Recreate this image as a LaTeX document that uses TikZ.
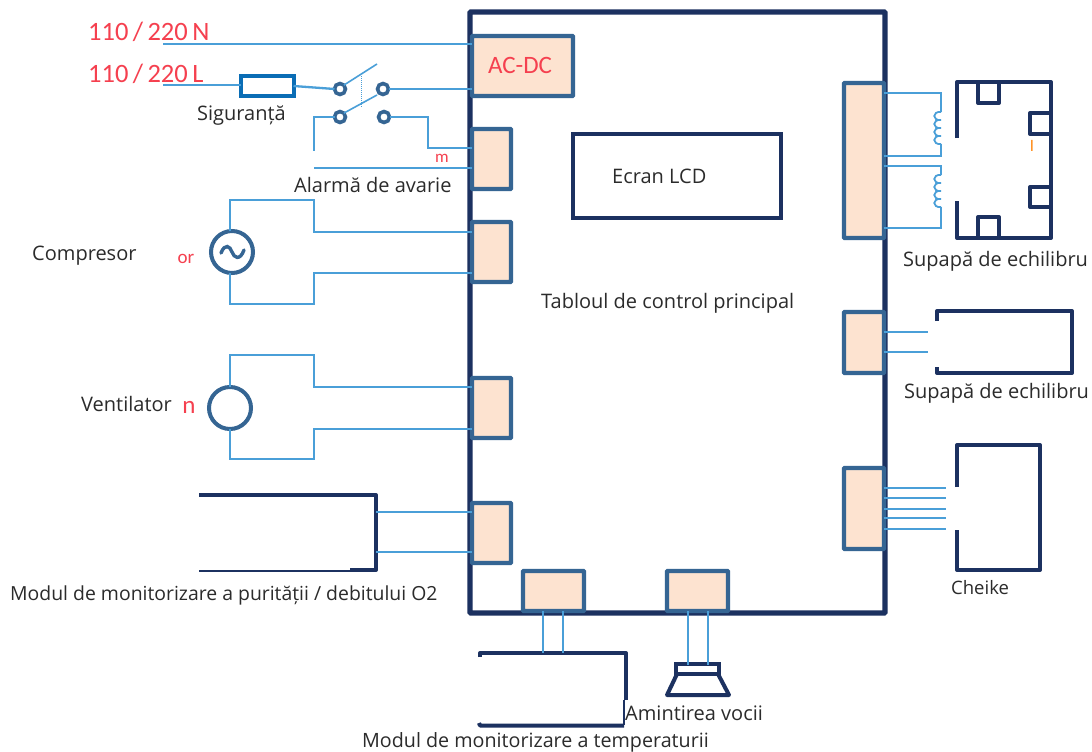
\documentclass[tikz,border=0pt]{standalone}
\usepackage{fontspec}
\setmainfont{Open Sans}
\newfontfamily\redfont{Carlito}
\definecolor{navy}{HTML}{1C3160}
\definecolor{portline}{HTML}{356593}
\definecolor{portfill}{HTML}{FDE3D0}
\definecolor{wirec}{HTML}{4A9FD8}
\definecolor{fusec}{HTML}{0A6DB5}
\definecolor{labelc}{HTML}{2B2B2B}
\definecolor{redc}{HTML}{F5404F}
\tikzset{
  x=1pt,y=-1pt,
  port/.style={draw=portline,fill=portfill,line width=4.4pt,inner sep=0pt,outer sep=0pt,rounded corners=0.8pt},
  wire/.style={draw=wirec,line width=2.3pt},
  thinwire/.style={draw=wirec,line width=1.6pt},
  heavy/.style={draw=navy,line width=4pt,line join=round},
  lbl/.style={text=labelc,inner sep=0pt,font=\fontsize{20}{22}\selectfont},
  redlbl/.style={text=redc,inner sep=0pt,font=\redfont\fontsize{26.5}{28}\selectfont},
  redbit/.style={text=redc,inner sep=0pt,font=\redfont\fontsize{17}{18}\selectfont},
  contact/.style={circle,draw=portline,fill=white,line width=3.6pt,minimum size=11pt,inner sep=0pt,outer sep=0pt},
  motor/.style={circle,draw=portline,fill=white,line width=4pt,minimum size=42pt,inner sep=0pt,outer sep=0pt},
}
\newcommand\boxat[6][]{\node[#1,minimum width={#5-#3},minimum height={#6-#4}] (#2) at ({(#3+#5)/2},{(#4+#6)/2}) {};}
\newcommand\coilat[2]{\draw[wire,line width=1.8pt] (#1,#2) .. controls (#1-9,#2-1) and (#1-9,#2+9) .. (#1,#2+8)
  .. controls (#1-9,#2+7) and (#1-9,#2+17) .. (#1,#2+16)
  .. controls (#1-9,#2+15) and (#1-9,#2+25) .. (#1,#2+24)
  .. controls (#1-9,#2+23) and (#1-9,#2+33) .. (#1,#2+32);}
\begin{document}
\begin{tikzpicture}
\useasboundingbox[fill=white] (0,0) rectangle (1092,752);

% free wire ends
\coordinate (nIn) at (163,44);
\coordinate (lIn) at (163,85);

% main board
\boxat[draw=navy,line width=5.4pt,rounded corners=1pt,inner sep=0pt,outer sep=0pt]{board}{470}{12}{885}{613}

\node[draw=fusec,line width=4pt,minimum width=53pt,minimum height=20pt,inner sep=0pt,outer sep=0pt,fill=white] (fuse) at (267,86) {};

\boxat[port]{acdc}{472}{36}{573}{96}
\boxat[port]{pAlarm}{472}{129}{511}{189}
\boxat[port]{pComp}{472}{222}{511}{282}
\boxat[port]{pFan}{472}{378}{511}{438}
\boxat[port]{pOxy}{472}{503}{511}{563}
\boxat[port]{pTemp}{523}{571}{584}{611}
\boxat[port]{pVoice}{667}{571}{728}{611}
\boxat[port]{pValveA}{844}{83}{884}{238}
\boxat[port]{pValveB}{844}{312}{884}{373}
\boxat[port]{pKey}{844}{468}{884}{549}

% LCD
\boxat[draw=navy,line width=4pt,inner sep=0pt,outer sep=0pt]{lcd}{573}{134}{781}{218}

% mains
\draw[wire] (nIn) -- (nIn -| acdc.west);
\draw[wire] (lIn) -- (lIn -| fuse.west);

% switch
\node[contact] (sA) at (340,89) {};
\node[contact] (sB) at (383,89) {};
\node[contact] (sC) at (340,117) {};
\node[contact] (sD) at (384,117) {};
\coordinate (bladeA) at (377,64);
\coordinate (bladeB) at (377,95);
\draw[wire] (fuse.east) -- (sA.west);
\draw[wire] (sB.east) -- (sB.east -| acdc.west);
\draw[thinwire] (sA.north east) -- (bladeA);
\draw[thinwire] (sC.north east) -- (bladeB);
\draw[wirec,line width=1pt,densely dotted] (361,76) -- (361,107);

% alarm
\coordinate (alA) at (314,151);
\coordinate (alB) at (314,168);
\draw[wire] (sC.west) -- (alA |- sC.west) -- (alA);
\draw[wire] (alB) -- (alB -| pAlarm.west);
\coordinate (alC) at (428,148);
\draw[wire] (sD.east) -- (alC |- sD.east) -- (alC) -- (alC -| pAlarm.west);

% compressor
\node[motor] (comp) at (232,252) {};
\coordinate (cA) at (314,232);
\coordinate (cB) at (314,273);
\draw[wire] (comp.north -| 230,0) -- (230,200) -- (314,200) -- (cA) -- (cA -| pComp.west);
\draw[wire] (comp.south -| 230,0) -- (230,304) -- (314,304) -- (cB) -- (cB -| pComp.west);
\draw[draw=portline,line width=3.4pt,line cap=round] (221,253) .. controls (225,243) and (230,246) .. (232,252) .. controls (234,258) and (240,261) .. (244,250);

% fan
\node[motor] (fan) at (230,408) {};
\coordinate (fA) at (314,387);
\coordinate (fB) at (314,429);
\draw[wire] (fan.north) -- (230,355) -- (314,355) -- (fA) -- (fA -| pFan.west);
\draw[wire] (fan.south) -- (230,459) -- (314,459) -- (fB) -- (fB -| pFan.west);

% oxygen module
\draw[heavy] (199,495) -- (376,495) -- (376,570) -- (350,570);
\draw[navy,line width=1.2pt] (199,571) -- (350,571);
\coordinate (oxA) at (376,512);
\coordinate (oxB) at (376,552);
\draw[thinwire] (oxA) -- (oxA -| pOxy.west);
\draw[thinwire] (oxB) -- (oxB -| pOxy.west);

% temperature module
\draw[heavy] (480,657) -- (480,653) -- (626,653) -- (626,700);
\draw[navy,line width=1.2pt] (624,700) -- (624,725);
\draw[heavy] (479,723) -- (480,725.5) -- (624,725.5);
\coordinate (tA) at (543,653);
\coordinate (tB) at (563,653);
\draw[wire] (tA |- pTemp.south) -- (tA);
\draw[wire] (tB |- pTemp.south) -- (tB);

% speaker
\node[draw=navy,line width=3.4pt,fill=white,minimum width=43pt,minimum height=10pt,inner sep=0pt,outer sep=0pt] (spk) at (697.5,669) {};
\draw[heavy] (spk.south west) ++(1,0) -- (667,695) -- (729,695) -- (718,674);
\coordinate (vA) at (688,665);
\coordinate (vB) at (708,665);
\draw[wire] (vA |- pVoice.south) -- (vA);
\draw[wire] (vB |- pVoice.south) -- (vB);

% balance valve with coils
\coordinate (c1a) at (941,93);
\coordinate (c1b) at (941,156);
\coordinate (c2a) at (941,166);
\coordinate (c2b) at (941,228);
\draw[wire] (c1a -| pValveA.east) -- (c1a) -- (941,112);
\coilat{941}{112}
\draw[wire] (941,144) -- (c1b) -- (c1b -| pValveA.east);
\draw[wire] (c2a -| pValveA.east) -- (c2a) -- (941,175);
\coilat{941}{175}
\draw[wire] (941,207) -- (c2b) -- (c2b -| pValveA.east);

\draw[heavy] (957,138) -- (957,82) -- (1051,82) -- (1051,238) -- (957,238) -- (957,201);
\draw[heavy] (978,82) -- (978,103) -- (999,103) -- (999,82);
\draw[heavy] (978,238) -- (978,217) -- (999,217) -- (999,238);
\draw[heavy] (1051,113) -- (1030,113) -- (1030,134) -- (1051,134);
\draw[heavy] (1051,187) -- (1030,187) -- (1030,207) -- (1051,207);

% second valve
\draw[heavy] (937,321) -- (937,311) -- (1072,311) -- (1072,373) -- (937,373) -- (937,367);
\coordinate (bA) at (928,332);
\coordinate (bB) at (928,352);
\draw[wire] (bA -| pValveB.east) -- (bA);
\draw[wire] (bB -| pValveB.east) -- (bB);

% key module
\draw[heavy] (957,487) -- (957,445) -- (1040,445) -- (1040,570) -- (957,570) -- (957,530);
\foreach \yy/\nm in {488/kA,498/kB,509/kC,518/kD,529/kE}{
  \coordinate (\nm) at (946,\yy);
  \draw[wire] (\nm -| pKey.east) -- (\nm);
}

% texts
\node[redlbl,anchor=west] (tN) at (88,32) {110\,/\,220\,N};
\node[redlbl,anchor=west] (tL) at (88,74) {110\,/\,220\,L};
\node[text=redc,inner sep=0pt,font=\redfont\fontsize{25}{27}\selectfont] (tAcdc) at (520,65) {AC-DC};
\node[lbl,anchor=west] (tFuse) at (197,116) {Siguranță};
\node[lbl,anchor=west] (tAlarm) at (294,185) {Alarmă de avarie};
\node[lbl,anchor=west] (tComp) at (32,256) {Compresor};
\node[lbl,anchor=west] (tFan) at (81,404) {Ventilator};
\node[lbl,anchor=west,font=\fontsize{19.4}{21}\selectfont] (tOxy) at (10,595) {Modul de monitorizare a purității / debitului O2};
\node[lbl,anchor=west,font=\fontsize{19.7}{21}\selectfont] (tTemp) at (362,742) {Modul de monitorizare a temperaturii};
\node[lbl,anchor=west] (tVoice) at (625,713) {Amintirea vocii};
\node[lbl,anchor=west] (tLcd) at (612,176) {Ecran LCD};
\node[lbl,anchor=west] (tMain) at (541,303) {Tabloul de control principal};
\node[lbl,anchor=west] (tValveA) at (903,261) {Supapă de echilibru};
\node[lbl,anchor=west] (tValveB) at (904,393) {Supapă de echilibru};
\node[lbl,anchor=west,font=\fontsize{18.5}{20}\selectfont] (tKey) at (951,588) {Cheike};
\node[redbit] (rM) at (442,158) {m};
\node[redbit,font=\redfont\fontsize{19}{20}\selectfont] (rOr) at (186,259) {or};
\node[redbit,font=\redfont\fontsize{25}{27}\selectfont] (rN) at (189,407) {n};
\node[redbit,text=orange,font=\redfont\fontsize{16}{17}\selectfont] (rL) at (1032,146) {l};
\end{tikzpicture}
\end{document}
